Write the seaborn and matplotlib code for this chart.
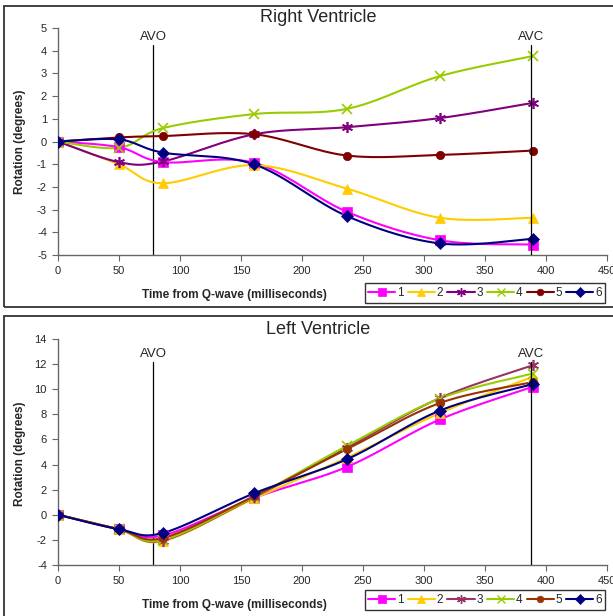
import numpy as np
import pandas as pd
import matplotlib
matplotlib.use("Agg")
import matplotlib.pyplot as plt
import seaborn as sns
from matplotlib.lines import Line2D
from matplotlib.patches import Rectangle

sns.set_style("white")
plt.rcParams['font.family'] = ['Liberation Sans', 'DejaVu Sans']
plt.rcParams['axes.unicode_minus'] = False

# ---------------- data ----------------
time_ms = [0, 50, 86, 161, 237, 313, 389]
series_names = ["1", "2", "3", "4", "5", "6"]

rv_1 = [0, -0.25, -0.91, -0.94, -3.10, -4.35, -4.54]
rv_2 = [0, -1.01, -1.84, -1.04, -2.08, -3.36, -3.36]
rv_3 = [0, -0.91, -0.88, 0.32, 0.63, 1.03, 1.70]
rv_4 = [0, -0.28, 0.59, 1.21, 1.44, 2.88, 3.76]
rv_5 = [0, 0.18, 0.24, 0.32, -0.62, -0.59, -0.40]
rv_6 = [0, 0.09, -0.49, -1.01, -3.29, -4.49, -4.29]

lv_1 = [0, -1.15, -1.65, 1.35, 3.82, 7.59, 10.19]
lv_2 = [0, -1.15, -2.10, 1.30, 4.55, 8.10, 10.98]
lv_3 = [0, -1.15, -2.05, 1.40, 5.35, 9.30, 11.90]
lv_4 = [0, -1.15, -2.00, 1.45, 5.50, 9.26, 11.25]
lv_5 = [0, -1.15, -1.85, 1.50, 5.23, 8.90, 10.56]
lv_6 = [0, -1.15, -1.45, 1.72, 4.43, 8.30, 10.40]

avo_ms = 78
avc_ms = 388

rv_colors = ["#FF00FF", "#FFCC00", "#800080", "#99CC00", "#800000", "#000080"]
lv_colors = ["#FF00FF", "#FFCC00", "#993366", "#99CC00", "#993300", "#000080"]
markers = ["s", "^", (6, 2, 0), "x", "o", "D"]
msizes = [7, 7, 8, 7, 6, 6]


def smooth(xs, ys, n=30):
    """Excel-style smoothed line (Catmull-Rom Bezier) through data points."""
    P = np.column_stack([xs, ys]).astype(float)
    ext = np.vstack([P[0], P, P[-1]])
    out = []
    t = np.linspace(0, 1, n)[:, None]
    for i in range(len(P) - 1):
        p0, p1, p2, p3 = ext[i], ext[i + 1], ext[i + 2], ext[i + 3]
        c1 = p1 + (p2 - p0) / 6.0
        c2 = p2 - (p3 - p1) / 6.0
        seg = ((1 - t) ** 3) * p1 + 3 * ((1 - t) ** 2) * t * c1 + 3 * (1 - t) * t ** 2 * c2 + t ** 3 * p2
        out.append(seg if i == 0 else seg[1:])
    out = np.vstack(out)
    return out[:, 0], out[:, 1]


W, H = 613, 616
fig = plt.figure(figsize=(W / 100, H / 100), dpi=100)

# outer panel frames
fig.patches.append(Rectangle((4 / W, 1 - 307 / H), (W + 5 - 4) / W, (307 - 6) / H,
                             transform=fig.transFigure, fill=False, edgecolor="#333333", lw=1.3))
fig.patches.append(Rectangle((4 / W, 1 - (H + 5) / H), (W + 5 - 4) / W, (H + 5 - 316) / H,
                             transform=fig.transFigure, fill=False, edgecolor="#333333", lw=1.3))


def panel(rect, data, colors, ylim, yticks, title, title_y, line_top, legend_y):
    ax = fig.add_axes(rect)
    for i, (vals, col) in enumerate(zip(data, colors)):
        sx, sy = smooth(time_ms, vals)
        df = pd.DataFrame({"x": sx, "y": sy})
        sns.lineplot(data=df, x="x", y="y", ax=ax, color=col, lw=1.5, sort=False,
                     estimator=None, legend=False, zorder=3)
        ax.plot(time_ms, vals, linestyle="none", marker=markers[i], color=col,
                markersize=msizes[i], markeredgewidth=1.2 if markers[i] in ("x", (6, 2, 0)) else 0.5,
                zorder=4)
    ax.set_xlim(0, 450)
    ax.set_ylim(*ylim)
    ax.set_xticks(range(0, 451, 50))
    ax.set_yticks(yticks)
    ax.tick_params(axis="both", labelsize=8, direction="out", length=4, width=0.8,
                   color="#666666", left=True, bottom=True, pad=4)
    for s in ["top", "right"]:
        ax.spines[s].set_visible(False)
    for s in ["left", "bottom"]:
        ax.spines[s].set_color("#666666")
        ax.spines[s].set_linewidth(1.0)
    ax.set_xlabel("")
    ax.set_ylabel("")
    # event lines
    ax.plot([avo_ms, avo_ms], [ylim[0], line_top], color="black", lw=0.9, zorder=2)
    ax.plot([avc_ms, avc_ms], [ylim[0], line_top], color="black", lw=0.9, zorder=5)
    off = (ylim[1] - ylim[0]) * 0.008
    ax.text(avo_ms, line_top + off, "AVO", ha="center", va="bottom", fontsize=9.5)
    ax.text(avc_ms, line_top + off, "AVC", ha="center", va="bottom", fontsize=9.5)
    fig.text(318 / W, 1 - title_y / H, title, ha="center", va="center", fontsize=13)
    handles = [Line2D([0], [0], color=c, marker=m, lw=1.5, markersize=ms * 0.8,
                      markeredgewidth=1.0 if m in ("x", (6, 2, 0)) else 0.5)
               for c, m, ms in zip(colors, markers, msizes)]
    fig.legend(handles, series_names, loc="center", ncol=6,
               bbox_to_anchor=(485 / W, 1 - legend_y / H), fontsize=8.5,
               frameon=True, fancybox=False, edgecolor="black", handlelength=2.3,
               handletextpad=0.15, columnspacing=0.35, borderpad=0.3, borderaxespad=0)
    return ax


ax1 = panel([58 / W, 1 - 255 / H, 549 / W, 227 / H],
            [rv_1, rv_2, rv_3, rv_4, rv_5, rv_6], rv_colors,
            (-5, 5), range(-5, 6), "Right Ventricle", 18, 4.25, 293)
ax2 = panel([58 / W, 1 - 565 / H, 549 / W, 226 / H],
            [lv_1, lv_2, lv_3, lv_4, lv_5, lv_6], lv_colors,
            (-4, 14), range(-4, 15, 2), "Left Ventricle", 330, 12.2, 600)

for yc, ylc in [(295, 142), (605, 454)]:
    fig.text(234 / W, 1 - yc / H, "Time from Q-wave (milliseconds)", ha="center", va="center",
             fontsize=8.5, fontweight="bold")
    fig.text(20 / W, 1 - ylc / H, "Rotation (degrees)", ha="center", va="center",
             fontsize=8.5, fontweight="bold", rotation=90)

fig.savefig("out.png", dpi=100)
